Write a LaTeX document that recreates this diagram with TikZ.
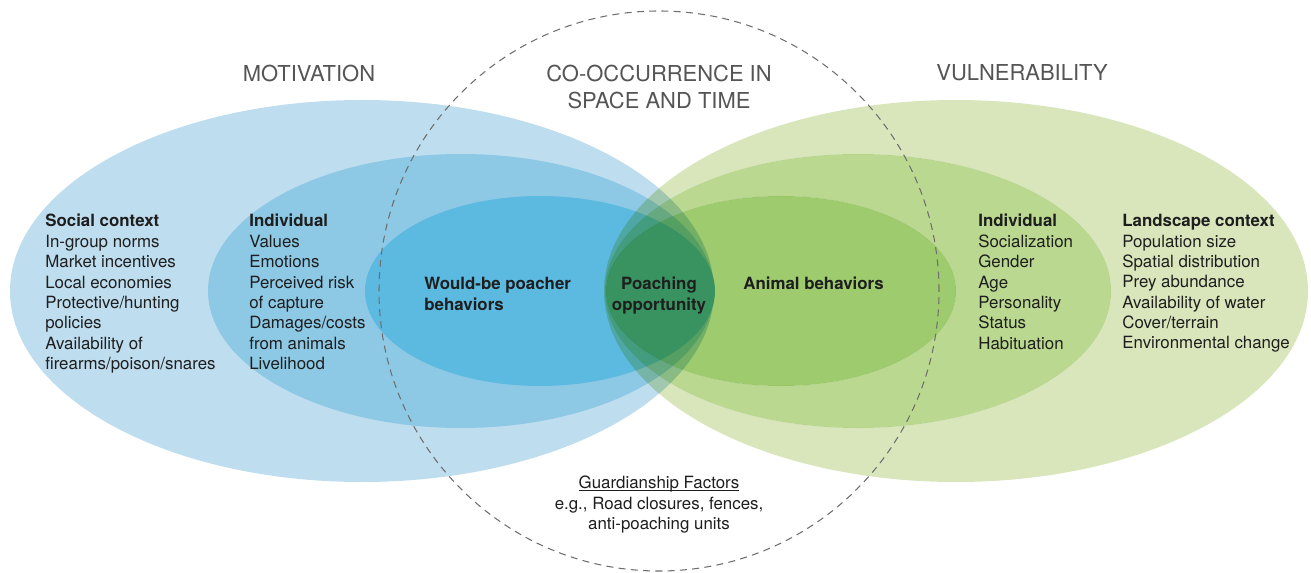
\documentclass[tikz,border=0pt]{standalone}
\usepackage{fontspec}
\setmainfont{TeX Gyre Heros}
\definecolor{blueA}{RGB}{190,221,238}
\definecolor{blueB}{RGB}{141,200,229}
\definecolor{blueC}{RGB}{92,185,224}
\definecolor{greenA}{RGB}{217,230,188}
\definecolor{greenB}{RGB}{186,216,143}
\definecolor{greenC}{RGB}{157,203,110}
\definecolor{titlegrey}{RGB}{85,85,85}
\definecolor{dashgrey}{RGB}{110,110,110}
\definecolor{bodygrey}{RGB}{30,30,30}
\newlength\ulen
\newcommand\uln[1]{\settowidth\ulen{#1}\leavevmode\rlap{#1}\rule[-1.2pt]{\ulen}{0.45pt}}
\begin{document}
\begin{tikzpicture}[x=0.02cm, y=0.02cm,
  title/.style={font=\fontsize{12.5}{15.3}\selectfont, text=titlegrey, align=center, inner sep=0pt},
  txt/.style={font=\fontsize{9.6}{11.6}\selectfont, text=bodygrey, align=left, inner sep=0pt, anchor=north west},
  ring/.style={draw=dashgrey, line width=0.6pt, dash pattern=on 4pt off 3pt}]
  \useasboundingbox (0,0) rectangle (1311,572);

  % motivation
  \fill[blueA] (362,281) ellipse [x radius=352, y radius=191];
  \fill[blueB] (461,281) ellipse [x radius=253, y radius=137];
  \fill[blueC] (540,281) ellipse [x radius=175, y radius=95];

  % vulnerability, multiplied over the blue
  \begin{scope}[blend mode=multiply]
    \fill[greenA, even odd rule] (956,281) ellipse [x radius=352, y radius=191]
      (858,281) ellipse [x radius=253, y radius=137];
    \fill[greenB, even odd rule] (858,281) ellipse [x radius=253, y radius=137]
      (781,281) ellipse [x radius=175, y radius=95];
    \fill[greenC] (781,281) ellipse [x radius=175, y radius=95];
  \end{scope}

  % co-occurrence
  \draw[ring] (659,281) circle [radius=280];

  \node[title] (motiv) at (309,499) {MOTIVATION};
  \node[title] (cooc) at (659,485) {CO-OCCURRENCE IN\\SPACE AND TIME};
  \node[title] (vuln) at (1022,499) {VULNERABILITY};

  \node[txt] (social) at (45,358) {\textbf{Social context}\\In-group norms\\Market incentives\\Local economies\\Protective/hunting\\policies\\Availability of\\firearms/poison/snares};
  \node[txt] (indivA) at (249,358) {\textbf{Individual}\\Values\\Emotions\\Perceived risk\\of capture\\Damages/costs\\from animals\\Livelihood};
  \node[txt] (poacher) at (424,295) {\textbf{Would-be poacher}\\\textbf{behaviors}};
  \node[txt, anchor=north, align=center] (opport) at (659,295) {\textbf{Poaching}\\\textbf{opportunity}};
  \node[txt] (animal) at (743,295) {\textbf{Animal behaviors}};
  \node[txt] (indivB) at (978,358) {\textbf{Individual}\\Socialization\\Gender\\Age\\Personality\\Status\\Habituation};
  \node[txt] (landsc) at (1122,358) {\textbf{Landscape context}\\Population size\\Spatial distribution\\Prey abundance\\Availability of water\\Cover/terrain\\Environmental change};
  \node[txt, anchor=north, align=center] (guard) at (659,96) {\uln{Guardianship Factors}\\e.g., Road closures, fences,\\anti-poaching units};
\end{tikzpicture}
\end{document}
